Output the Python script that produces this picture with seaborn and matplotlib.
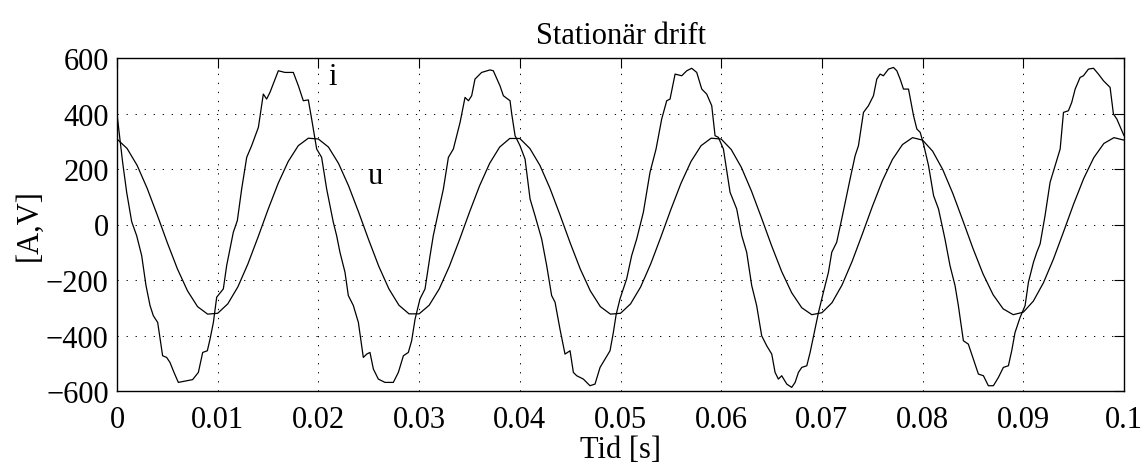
import numpy as np
import pandas as pd
import matplotlib
matplotlib.use("Agg")
import matplotlib.pyplot as plt
import seaborn as sns

# ---- data ----
t_i = [0.0000, 0.00056, 0.00096, 0.00146, 0.00195, 0.00245, 0.00288, 0.00328, 0.00361, 0.00404,
       0.00453, 0.00493, 0.00526, 0.00566, 0.00609, 0.00751, 0.00808, 0.00851, 0.00897, 0.00924,
       0.00957, 0.0099, 0.01056, 0.01089, 0.01155, 0.01195, 0.01238, 0.01288, 0.01337, 0.01404,
       0.01453, 0.01486, 0.01519, 0.01602, 0.01668, 0.01751, 0.01801, 0.0185, 0.019, 0.01933,
       0.01983, 0.02032,
       0.02082, 0.02148, 0.02181, 0.02214, 0.02264, 0.02297, 0.02347, 0.02397, 0.02446, 0.0248,
       0.02512, 0.02546, 0.02595, 0.02661, 0.02744, 0.02794, 0.02844, 0.02893, 0.02926, 0.0296,
       0.03009, 0.03059, 0.03109, 0.03141, 0.03191, 0.03241, 0.03291, 0.0334, 0.03407, 0.03456,
       0.0349, 0.03522, 0.03555, 0.03621, 0.03704, 0.03737, 0.03803, 0.03837, 0.03903, 0.0392,
       0.03953, 0.04002, 0.04052, 0.04102,
       0.04151, 0.04217, 0.04267, 0.04316, 0.0435, 0.04399, 0.04449, 0.04499, 0.04532, 0.04565,
       0.04631, 0.04697, 0.04747, 0.04797, 0.04847, 0.04896, 0.04929, 0.04956, 0.04995, 0.05061,
       0.05111, 0.05161, 0.05227, 0.05293, 0.05353, 0.05409, 0.05459, 0.05492, 0.05542, 0.05608,
       0.05658, 0.05707, 0.05757, 0.05807, 0.05856, 0.05906, 0.05939, 0.05972, 0.06022, 0.06088,
       0.06128, 0.06154, 0.06204,
       0.06253, 0.06303, 0.06352, 0.06402, 0.06452, 0.06502, 0.06535, 0.06568, 0.06601, 0.06651,
       0.067, 0.06734, 0.06767, 0.068, 0.0685, 0.06883, 0.06932, 0.06966, 0.07015, 0.07065,
       0.07098, 0.07147, 0.07197, 0.0728, 0.0733, 0.07363, 0.07413, 0.07462, 0.07512, 0.07545,
       0.07578, 0.07611, 0.07661, 0.07711, 0.07744, 0.07777, 0.0781, 0.0786, 0.0791, 0.07943,
       0.07976, 0.08009, 0.08059, 0.08109, 0.08158,
       0.08222, 0.08272, 0.08322, 0.08355, 0.08405, 0.08454, 0.08504, 0.08554, 0.08604, 0.08653,
       0.08703, 0.08753, 0.08802, 0.08852, 0.08885, 0.08918, 0.08968, 0.09018, 0.09051, 0.09101,
       0.09134, 0.09167, 0.09216, 0.09266, 0.09316, 0.09366, 0.09399, 0.09448, 0.09481, 0.09515,
       0.09564, 0.09597, 0.09647, 0.09697, 0.09746, 0.09796, 0.09862, 0.09895, 0.09929, 0.1000]

i_vals = [398, 224, 116, 10, -40, -112, -220, -292, -329, -353,
          -473, -479, -497, -533, -569, -559, -533, -461, -455, -413,
          -353, -262, -232, -148, -28, 14, 128, 242, 284, 350,
          470, 452, 476, 554, 548, 548, 500, 446, 449, 380,
          272, 242,
          128, 8, -40, -100, -172, -256, -292, -353, -479, -467,
          -461, -521, -557, -569, -569, -533, -473, -461, -419, -341,
          -268, -232, -112, -40, 44, 128, 242, 272, 368, 458,
          446, 464, 524, 548, 557, 554, 500, 464, 446, 398,
          320, 284, 236, 92,
          32, -52, -148, -256, -280, -377, -467, -455, -533, -545,
          -557, -581, -575, -515, -485, -455, -389, -326, -268, -196,
          -112, -52, 44, 188, 272, 380, 446, 452, 542, 536,
          554, 563, 548, 488, 470, 428, 320, 314, 272, 116,
          80, 56, -40,
          -100, -220, -292, -401, -437, -467, -533, -557, -545, -575,
          -587, -569, -533, -515, -509, -461, -377, -317, -244, -172,
          -100, -64, 20, 164, 248, 284, 404, 428, 464, 524,
          542, 536, 560, 566, 554, 524, 488, 488, 392, 344,
          332, 290, 212, 104, 56,
          -52, -148, -220, -292, -419, -431, -485, -539, -545, -581,
          -581, -551, -515, -509, -455, -389, -335, -292, -208, -136,
          -100, -70, 32, 152, 212, 272, 404, 410, 440, 488,
          530, 536, 560, 563, 542, 518, 494, 398, 380, 320]

t_u = [k / 1000 for k in range(101)]
u_vals = [308, 274, 213, 130, 34, -66, -160, -239, -296, -323,
          -320, -286, -225, -142, -46, 54, 148, 227, 284, 311,
          308, 279, 220, 139, 44, -56, -151, -232, -291, -322,
          -322, -291, -232, -151, -56, 44, 139, 220, 279, 310,
          310, 274, 213, 130, 34, -66, -160, -239, -296, -323,
          -320, -286, -225, -142, -46, 54, 148, 227, 284, 311,
          308, 270, 206, 121, 24, -76, -169, -246, -300, -325,
          -318, -282, -218, -133, -36, 64, 157, 234, 288, 313,
          304, 264, 198, 112, 14, -86, -178, -253, -304, -325,
          -316, -276, -210, -124, -26, 74, 166, 241, 292, 313,
          304]

x_ticks = [0, 0.01, 0.02, 0.03, 0.04, 0.05, 0.06, 0.07, 0.08, 0.09, 0.1]
x_tick_labels = ["0", "0.01", "0.02", "0.03", "0.04", "0.05", "0.06", "0.07", "0.08", "0.09", "0.1"]
y_ticks = [-600, -400, -200, 0, 200, 400, 600]
y_tick_labels = ["\u2212600", "\u2212400", "\u2212200", "0", "200", "400", "600"]

title_text = "Stationär drift"
x_label = "Tid [s]"
y_label = "[A,V]"

# ---- plotting ----
sns.set_style("white")
plt.rcParams["font.family"] = ["Liberation Serif", "DejaVu Serif"]
plt.rcParams["text.color"] = "black"
plt.rcParams["axes.labelcolor"] = "black"
FS = 22
plt.rcParams["font.size"] = FS

df_i = pd.DataFrame({"t": t_i, "v": i_vals})
df_u = pd.DataFrame({"t": t_u, "v": u_vals})

fig = plt.figure(figsize=(11.47, 4.64), dpi=100)
ax = fig.add_axes([117 / 1147, 1 - 392 / 464, (1124 - 117) / 1147, (392 - 59) / 464])

sns.lineplot(data=df_i, x="t", y="v", ax=ax, color="black", linewidth=0.9,
             estimator=None, sort=False)
sns.lineplot(data=df_u, x="t", y="v", ax=ax, color="black", linewidth=0.9,
             estimator=None, sort=False)

ax.set_xlim(0, 0.1)
ax.set_ylim(-600, 600)
ax.set_xticks(x_ticks)
ax.set_xticklabels(x_tick_labels)
ax.set_yticks(y_ticks)
ax.set_yticklabels(y_tick_labels)

ax.grid(True, color="black", linewidth=0.7, linestyle=(0, (1.3, 8)))
ax.tick_params(direction="in", length=7, width=0.8, top=True, right=True,
               labelsize=FS, colors="black")
ax.tick_params(axis="x", pad=10)
ax.tick_params(axis="y", pad=6)
for s in ax.spines.values():
    s.set_visible(True)
    s.set_color("black")
    s.set_linewidth(1.0)

ax.set_title(title_text, fontsize=FS, pad=11, color="black")
ax.set_xlabel(x_label, fontsize=FS, labelpad=1)
ax.set_ylabel(y_label, fontsize=FS, labelpad=2)

ax.text(0.02095, 532, "i", fontsize=FS, ha="left", va="center", color="black")
ax.text(0.02483, 178, "u", fontsize=FS, ha="left", va="center", color="black")

fig.savefig("out.png", dpi=100, facecolor="white")
